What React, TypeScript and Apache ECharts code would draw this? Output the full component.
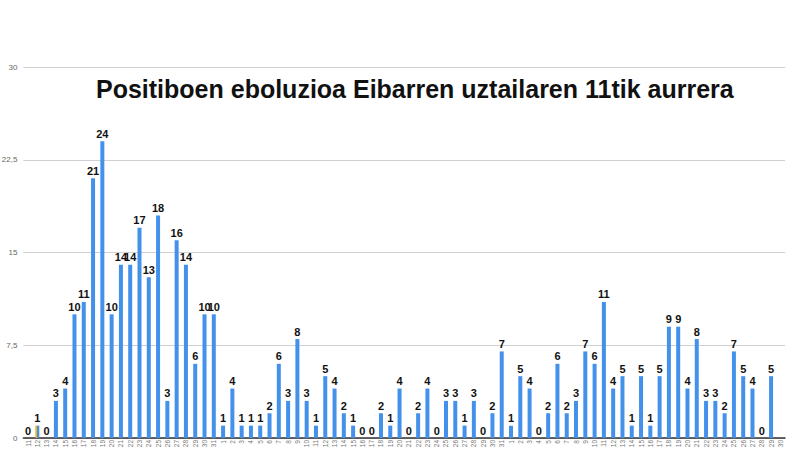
import { useRef, useEffect } from "react"
import * as echarts from "echarts"

const TITLE = "Positiboen eboluzioa Eibarren uztailaren 11tik aurrera"

// egunak: uztailak 11 - irailak 30
const days = [
  "7/11", "7/12", "7/13", "7/14", "7/15", "7/16", "7/17", "7/18", "7/19", "7/20",
  "7/21", "7/22", "7/23", "7/24", "7/25", "7/26", "7/27", "7/28", "7/29", "7/30",
  "7/31", "8/1", "8/2", "8/3", "8/4", "8/5", "8/6", "8/7", "8/8", "8/9",
  "8/10", "8/11", "8/12", "8/13", "8/14", "8/15", "8/16", "8/17", "8/18", "8/19",
  "8/20", "8/21", "8/22", "8/23", "8/24", "8/25", "8/26", "8/27", "8/28", "8/29",
  "8/30", "8/31", "9/1", "9/2", "9/3", "9/4", "9/5", "9/6", "9/7", "9/8",
  "9/9", "9/10", "9/11", "9/12", "9/13", "9/14", "9/15", "9/16", "9/17", "9/18",
  "9/19", "9/20", "9/21", "9/22", "9/23", "9/24", "9/25", "9/26", "9/27", "9/28",
  "9/29", "9/30",
]

const positives = [
  0, 1, 0, 3, 4, 10, 11, 21, 24, 10, 14, 14, 17, 13, 18, 3, 16, 14, 6, 10,
  10, 1, 4, 1, 1, 1, 2, 6, 3, 8, 3, 1, 5, 4, 2, 1, 0, 0, 2, 1,
  4, 0, 2, 4, 0, 3, 3, 1, 3, 0, 2, 7, 1, 5, 4, 0, 2, 6, 2, 3,
  7, 6, 11, 4, 5, 1, 5, 1, 5, 9, 9, 4, 8, 3, 3, 2, 7, 5, 4, 0,
  5,
]

// the one bar drawn half orange in the original
const markedIndex = 1

const yTicks = { min: 0, max: 30, step: 7.5 }

export default function App() {
  const chartRef = useRef<HTMLDivElement>(null)

  useEffect(() => {
    if (!chartRef.current) return
    const chart = echarts.init(chartRef.current, null, { renderer: "svg" })

    const blue = "#4391ea"
    const data = positives.map((v, i) => {
      if (i !== markedIndex) return v
      return {
        value: v,
        itemStyle: {
          color: new echarts.graphic.LinearGradient(0, 0, 1, 0, [
            { offset: 0, color: "#f4b400" },
            { offset: 0.4, color: "#f4b400" },
            { offset: 0.4, color: blue },
            { offset: 1, color: blue },
          ]),
        },
      }
    })

    chart.setOption({
      animation: false,
      title: {
        text: TITLE,
        left: 91,
        top: 71,
        textStyle: {
          fontFamily: "Liberation Sans",
          fontSize: 25,
          fontWeight: "bold",
          color: "#111",
        },
      },
      grid: {
        left: 23.4,
        right: 15,
        top: 67,
        bottom: 12,
        containLabel: false,
        outerBoundsMode: "none",
      },
      xAxis: {
        type: "category",
        data: days,
        axisTick: { show: false },
        axisLine: { lineStyle: { color: "#333", width: 1.5 } },
        axisLabel: {
          interval: 0,
          rotate: 90,
          fontSize: 6.5,
          color: "#777",
          margin: 2,
          fontFamily: "Liberation Sans",
          // only the day fits under the axis
          formatter: (v: string) => v.split("/")[1],
        },
      },
      yAxis: {
        type: "value",
        min: yTicks.min,
        max: yTicks.max,
        interval: yTicks.step,
        axisLine: { show: false },
        axisTick: { show: false },
        splitLine: { lineStyle: { color: "#d0d0d0", width: 1 } },
        axisLabel: {
          fontSize: 8,
          color: "#666",
          margin: 6,
          fontFamily: "Liberation Sans",
          formatter: (v: number) => String(v).replace(".", ","),
        },
      },
      series: [
        {
          type: "bar",
          data,
          barWidth: 4,
          itemStyle: { color: blue },
          label: {
            show: true,
            position: "top",
            distance: 2,
            fontSize: 11,
            fontWeight: "bold",
            color: "#111",
            fontFamily: "Liberation Sans",
          },
        },
      ],
    })

    return () => chart.dispose()
  }, [])

  return (
    <div
      ref={chartRef}
      style={{ position: "fixed", left: 0, top: 0, width: 800, height: 450, background: "#fff" }}
    />
  )
}
